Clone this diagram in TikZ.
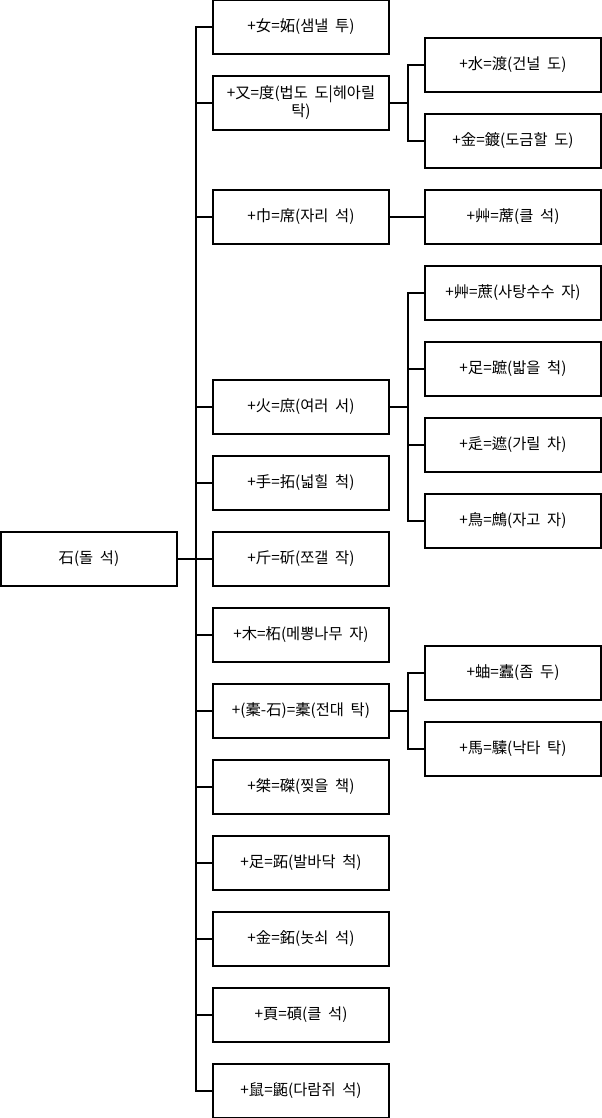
\documentclass[tikz,border=0pt]{standalone}
\usepackage{fontspec}
\setmainfont{Noto Sans CJK KR}
\usetikzlibrary{positioning}
\newcommand\hbfont{\fontsize{11.5}{13.5}\selectfont\spaceskip=5pt\relax}
\tikzstyle{hb}=[rectangle, draw, line width=1.5pt, minimum width=132pt, minimum height=40.5pt, inner sep=2pt, align=center, font=\hbfont]
\tikzstyle{br}=[line width=1.5pt, to path={(\tikztostart.east) -- ++(13.5pt,0) |- (\tikztotarget.west)}]

\begin{document}
\begin{tikzpicture}
 [node distance=57pt]
 \useasboundingbox (-66.75pt,-419.25pt) rectangle (384.75pt,419.25pt);
 \node[hb] (S) {石(돌 석)};
 \node[hb] (S1) at (159pt,399pt) {+女=妬(샘낼 투)};
 \node[hb] (S2) [below of=S1] {+又=度(법도 도|헤아릴\\탁)};
 \node[hb] (S3) [below of=S2, node distance=85.5pt] {+巾=席(자리 석)};
 \node[hb] (S4) [below of=S3, node distance=142.5pt] {+火=庶(여러 서)};
 \node[hb] (S5) [below of=S4] {+手=拓(넓힐 척)};
 \node[hb] (S6) [below of=S5] {+斤=斫(쪼갤 작)};
 \node[hb] (S7) [below of=S6] {+木=柘(메뽕나무 자)};
 \node[hb] (S8) [below of=S7] {+(橐-石)=橐(전대 탁)};
 \node[hb] (S9) [below of=S8] {+桀=磔(찢을 책)};
 \node[hb] (S10) [below of=S9] {+足=跖(발바닥 척)};
 \node[hb] (S11) [below of=S10] {+金=鉐(놋쇠 석)};
 \node[hb] (S12) [below of=S11] {+頁=碩(클 석)};
 \node[hb] (S13) [below of=S12] {+鼠=鼫(다람쥐 석)};
 % second level
 \node[hb] (S2a) [right of=S2, node distance=159pt, yshift=28.5pt] {+水=渡(건널 도)};
 \node[hb] (S2b) [right of=S2, node distance=159pt, yshift=-28.5pt] {+金=鍍(도금할 도)};
 \node[hb] (S3a) [right of=S3, node distance=159pt] {+艸=蓆(클 석)};
 \node[hb] (S4a) [right of=S4, node distance=159pt, yshift=85.5pt] {+艸=蔗(사탕수수 자)};
 \node[hb] (S4b) [right of=S4, node distance=159pt, yshift=28.5pt] {+足=蹠(밟을 척)};
 \node[hb] (S4c) [right of=S4, node distance=159pt, yshift=-28.5pt] {+辵=遮(가릴 차)};
 \node[hb] (S4d) [right of=S4, node distance=159pt, yshift=-85.5pt] {+鳥=鷓(자고 자)};
 \node[hb] (S8a) [right of=S8, node distance=159pt, yshift=28.5pt] {+蚰=蠹(좀 두)};
 \node[hb] (S8b) [right of=S8, node distance=159pt, yshift=-28.5pt] {+馬=驝(낙타 탁)};
 \path[br]
   (S) edge (S1)
   (S) edge (S2)
   (S) edge (S3)
   (S) edge (S4)
   (S) edge (S5)
   (S) edge (S6)
   (S) edge (S7)
   (S) edge (S8)
   (S) edge (S9)
   (S) edge (S10)
   (S) edge (S11)
   (S) edge (S12)
   (S) edge (S13)
   (S2) edge (S2a)
   (S2) edge (S2b)
   (S3) edge (S3a)
   (S4) edge (S4a)
   (S4) edge (S4b)
   (S4) edge (S4c)
   (S4) edge (S4d)
   (S8) edge (S8a)
   (S8) edge (S8b);
\end{tikzpicture}
\end{document}
